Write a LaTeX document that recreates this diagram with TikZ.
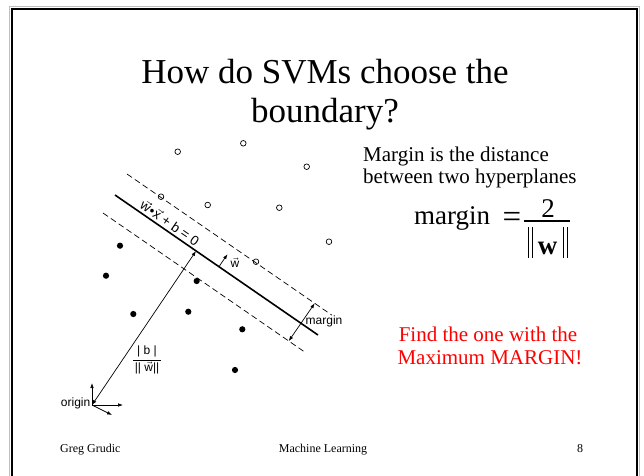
\documentclass[tikz,border=0pt]{standalone}
\usepackage{fontspec}
\setmainfont{Liberation Serif}
\newfontfamily\lsans{Liberation Sans}
\usetikzlibrary{arrows.meta}
\newcommand\myvw{$\vec{\hbox{w}}$}
\newcommand\myvx{$\vec{\hbox{x}}$}
\begin{document}
\begin{tikzpicture}[x=1pt,y=-1pt,
  tip/.style={-{Latex[length=5pt,width=3.6pt]},line width=0.7pt},
  dbl/.style={{Latex[length=5pt,width=3.6pt]}-{Latex[length=5pt,width=3.6pt]},line width=0.7pt},
  dashline/.style={dash pattern=on 6pt off 3.5pt,line width=0.7pt},
  hyper/.style={line width=1.6pt},
  hollow/.style={circle,draw,line width=0.7pt,inner sep=0pt,minimum size=5.6pt},
  solid dot/.style={circle,fill=black,inner sep=0pt,minimum size=6.2pt},
  lbl/.style={font=\lsans\fontsize{12}{14}\selectfont,inner sep=0pt},
  slidetext/.style={inner sep=0pt,anchor=base west,font=\fontsize{21}{24}\selectfont},
  redtext/.style={inner sep=0pt,anchor=base,text=red,font=\fontsize{21}{24}\selectfont},
  titletext/.style={inner sep=0pt,anchor=base,font=\fontsize{35}{40}\selectfont},
  foot/.style={inner sep=0pt,anchor=base,font=\fontsize{12}{14}\selectfont},
  frame/.style={line width=2.3pt}]
\useasboundingbox (0,0) rectangle (644,475);
\fill[white] (0,0) rectangle (644,475);
% slide frame
\draw[gray!50,line width=1pt] (9.8,6.8) rectangle (639.2,500);
\draw[frame] (12,9) rectangle (637,500);

% title
\node[titletext] (t1) at (325,83) {How do SVMs choose the};
\node[titletext] (t2) at (325,122) {boundary?};

% right text
\node[slidetext] (m1) at (363,161.5) {Margin is the distance};
\node[slidetext] (m2) at (363,183) {between two hyperplanes};

% formula
\node[inner sep=0pt,anchor=base west,font=\fontsize{27}{30}\selectfont] (fm) at (414,224) {margin};
\node[inner sep=0pt,font=\fontsize{33}{36}\selectfont] (feq) at (512,219.5) {=};
\coordinate (fb1) at (524,221);
\coordinate (fb2) at (570,221);
\draw[line width=1.1pt] (fb1) -- (fb2);
\node[inner sep=0pt,anchor=base,font=\fontsize{27}{30}\selectfont] (fnum) at (548,217) {2};
\node[inner sep=0pt,anchor=base,font=\bfseries\fontsize{27}{30}\selectfont] (fden) at (547.5,254) {w};
\coordinate (b1a) at (528,227); \coordinate (b1b) at (528,258);
\coordinate (b2a) at (532,227); \coordinate (b2b) at (532,258);
\coordinate (b3a) at (563,227); \coordinate (b3b) at (563,258);
\coordinate (b4a) at (567,227); \coordinate (b4b) at (567,258);
\draw[line width=0.9pt] (b1a) -- (b1b) (b2a) -- (b2b) (b3a) -- (b3b) (b4a) -- (b4b);

% red text
\node[redtext] (r1) at (488,341.7) {Find the one with the};
\node[redtext] (r2) at (490,364.3) {Maximum MARGIN!};

% footer
\node[foot,anchor=base west] (g) at (60,452) {Greg Grudic};
\node[foot] (ml) at (323,452) {Machine Learning};
\node[foot] (pg) at (580,452) {8};

% hyperplanes
\coordinate (s1) at (115,195); \coordinate (s2) at (318,335);
\coordinate (u1) at (127,174); \coordinate (u2) at (332,315.2);
\coordinate (l1) at (103,213); \coordinate (l2) at (306,352.9);
\draw[hyper] (s1) -- (s2);
\draw[dashline] (u1) -- (u2);
\draw[dashline] (l1) -- (l2);

% hollow points
\node[hollow] (h1) at (177.7,151.7) {};
\node[hollow] (h2) at (243.3,143.3) {};
\node[hollow] (h3) at (306.7,166.7) {};
\node[hollow] (h4) at (161,196.7) {};
\node[hollow] (h5) at (207.7,205) {};
\node[hollow] (h6) at (279.3,207.7) {};
\node[hollow] (h7) at (329,241.7) {};
\node[hollow] (h8) at (256,261.7) {};

% filled points
\node[solid dot] (f1) at (120,245.7) {};
\node[solid dot] (f2) at (106,275.7) {};
\node[solid dot] (f3) at (196.7,281) {};
\node[solid dot] (f4) at (133.3,314) {};
\node[solid dot] (f5) at (188.3,311.7) {};
\node[solid dot] (f6) at (242.3,329.3) {};
\node[solid dot] (f7) at (235,370) {};

% hyperplane label
\node[lbl,font=\lsans\fontsize{13.5}{15}\selectfont,rotate=-34.56] (eq) at (170.3,222.6)
  {\myvw\kern0.5pt\textbullet\kern0.5pt\myvx{} + b = 0};

% w arrow
\coordinate (wf) at (219,266.6); \coordinate (wt) at (227.5,254.2);
\draw[tip] (wf) -- (wt);
\node[lbl] (wlab) at (235,263) {\myvw};

% margin arrow
\coordinate (mu) at (314.7,303.3); \coordinate (mlo) at (288.7,341.1);
\draw[dbl] (mlo) -- (mu);
\node[lbl,anchor=west] (mlab) at (305.5,321.5) {margin};

% distance from origin
\coordinate (O) at (92,405); \coordinate (foot) at (196,251);
\draw[dbl] (O) -- (foot);
\node[lbl] (frac) at (147,360) {$\displaystyle\frac{\hbox{| b |}}{\hbox{\,|| \myvw||\,}}$};

% origin axes
\coordinate (ax1) at (92,383); \coordinate (ax2) at (123,405); \coordinate (ax3) at (112,415);
\draw[tip] (O) -- (ax1);
\draw[tip] (O) -- (ax2);
\draw[tip] (O) -- (ax3);
\node[lbl,anchor=east] (olab) at (90.5,403) {origin};
\end{tikzpicture}
\end{document}
